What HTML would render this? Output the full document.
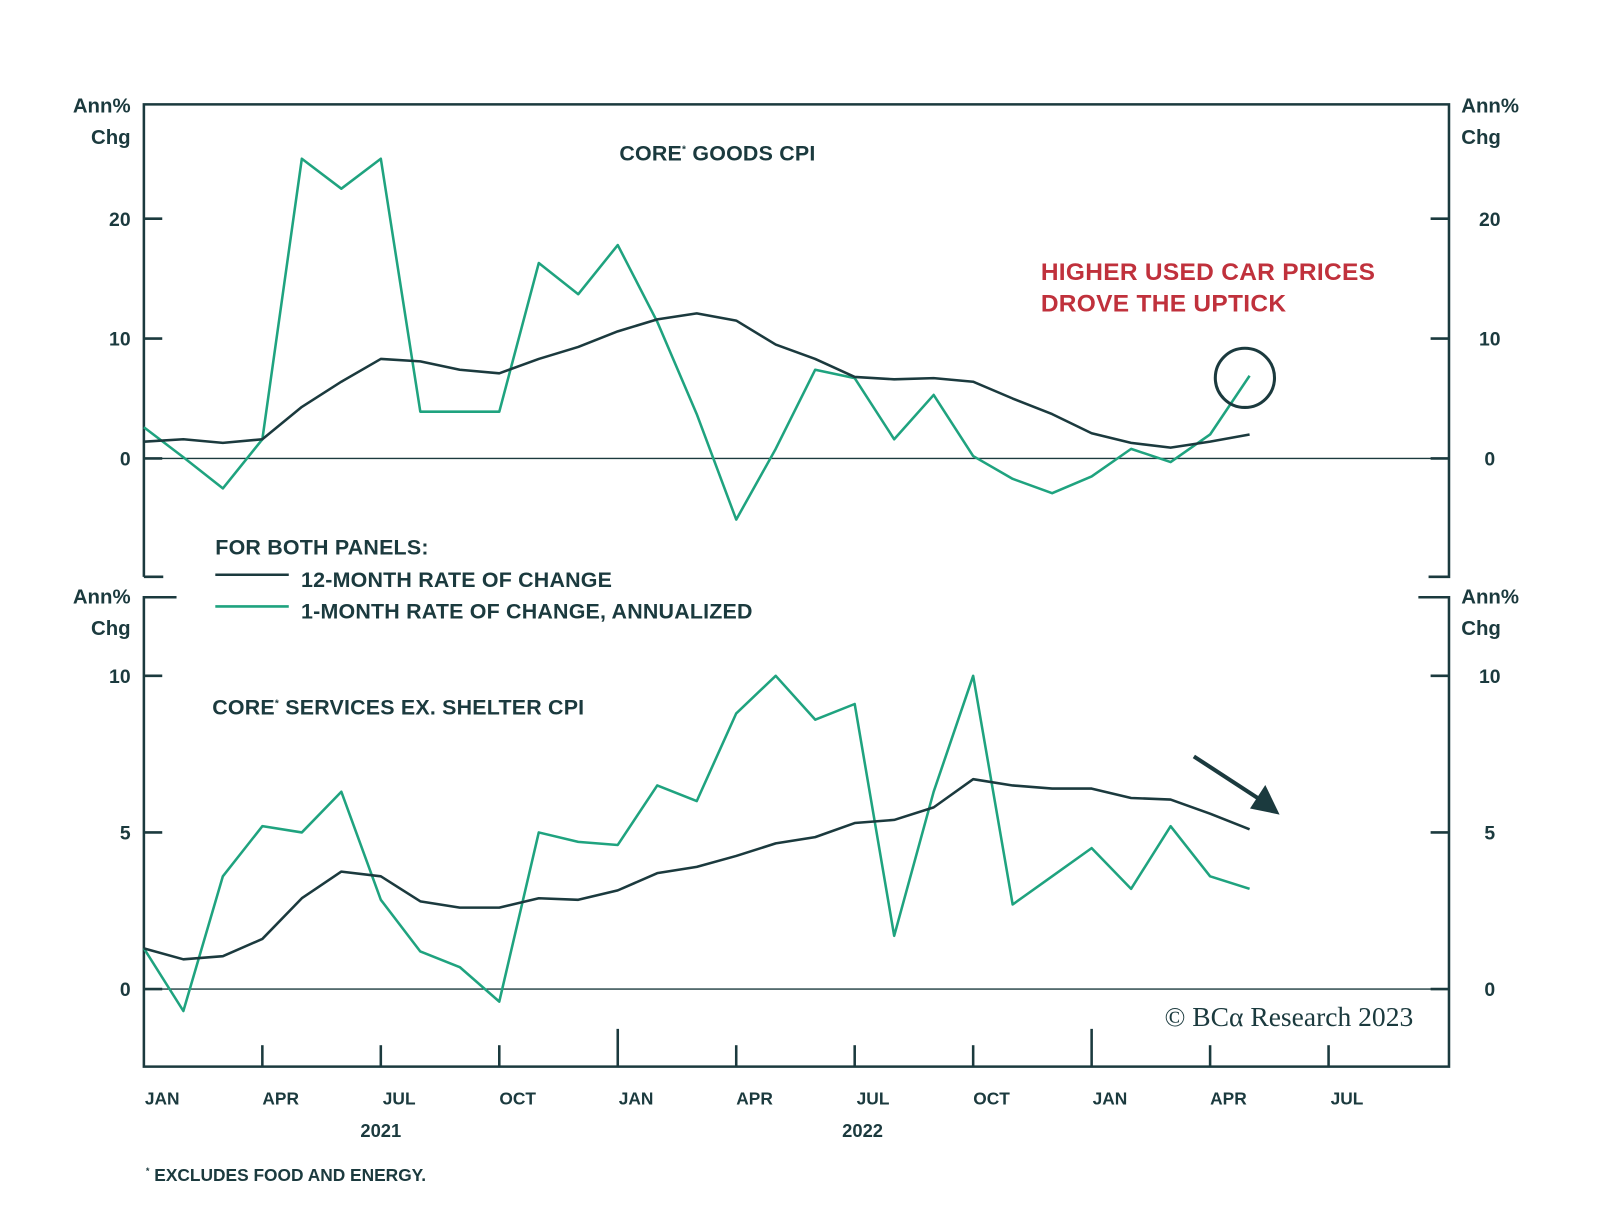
<!DOCTYPE html>
<html><head><meta charset="utf-8"><style>
html,body{margin:0;padding:0;background:#fff;}
svg{display:block;font-family:"Liberation Sans",sans-serif;}
</style></head><body>
<svg id="chart" width="1600" height="1221" viewBox="0 0 1568 1196" xmlns="http://www.w3.org/2000/svg">
<g id="frame" stroke="#1b3a3e" stroke-width="2.5" fill="none">
<path d="M141,565 L141,102 L1420,102 L1420,565 L1400,565"/>
<path d="M141,565 L160,565"/>
<path d="M173,585 L141,585 L141,1045 L1420,1045 L1420,585 L1390,585"/>
</g>
<g id="layer"></g>
<g fill="#1b3a3e" font-weight="bold" font-size="20">
<text x="128" y="110" text-anchor="end">Ann%</text>
<text x="128" y="141" text-anchor="end">Chg</text>
<text x="1432" y="110">Ann%</text>
<text x="1432" y="141">Chg</text>
<text x="128" y="591" text-anchor="end">Ann%</text>
<text x="128" y="622" text-anchor="end">Chg</text>
<text x="1432" y="591">Ann%</text>
<text x="1432" y="622">Chg</text>
</g>
<g fill="#1b3a3e" font-size="21" font-weight="bold" letter-spacing="0.2">
<text x="607" y="157">CORE<tspan font-size="10" dy="-8">*</tspan><tspan dy="8"> GOODS CPI</tspan></text>
<text x="208" y="700">CORE<tspan font-size="10" dy="-8">*</tspan><tspan dy="8"> SERVICES EX. SHELTER CPI</tspan></text>
<text x="211" y="543">FOR BOTH PANELS:</text>
<text x="295" y="575">12-MONTH RATE OF CHANGE</text>
<text x="295" y="606">1-MONTH RATE OF CHANGE, ANNUALIZED</text>
</g>
<line x1="211" y1="563" x2="283" y2="563" stroke="#1b3a3e" stroke-width="2.5"/>
<line x1="211" y1="594" x2="283" y2="594" stroke="#1fa37f" stroke-width="2.5"/>
<g fill="#c0313c" font-size="24" font-weight="bold" letter-spacing="0.3">
<text x="1020" y="274">HIGHER USED CAR PRICES</text>
<text x="1020" y="305">DROVE THE UPTICK</text>
</g>
<circle cx="1220" cy="370" r="29" fill="none" stroke="#1b3a3e" stroke-width="3"/>
<g>
<line x1="1170" y1="741" x2="1236" y2="784" stroke="#1b3a3e" stroke-width="4"/>
<polygon points="1254,798 1225,792 1240,769" fill="#1b3a3e"/>
</g>
<text x="1385" y="1005" text-anchor="end" font-family="Liberation Serif, serif" font-size="27" fill="#1b3a3e">© BCα Research 2023</text>
<text x="143" y="1157" font-size="17" font-weight="bold" fill="#1b3a3e"><tspan font-size="9" dy="-7">*</tspan><tspan dy="7"> EXCLUDES FOOD AND ENERGY.</tspan></text>
</svg>
<script>
const monthLabels=["JAN","APR","JUL","OCT","JAN","APR","JUL","OCT","JAN","APR","JUL"];
const monthIdx=[0,3,6,9,12,15,18,21,24,27,30];
const yearLabels=["2021","2022"];
const yearPos=[6,18.2];
const topTicks=[0,10,20];
const bottomTicks=[0,5,10];
const goods12m=[1.4,1.6,1.3,1.6,4.3,6.4,8.3,8.1,7.4,7.1,8.3,9.3,10.6,11.6,12.1,11.5,9.5,8.3,6.8,6.6,6.7,6.4,5.0,3.7,2.1,1.3,0.9,1.4,2.0];
const goods1m=[2.6,0.1,-2.5,1.6,25,22.5,25,3.9,3.9,3.9,16.3,13.7,17.8,11.4,3.7,-5.1,0.8,7.4,6.7,1.6,5.3,0.2,-1.7,-2.9,-1.5,0.8,-0.3,2.0,6.9];
const serv12m=[1.3,0.95,1.05,1.6,2.9,3.75,3.6,2.8,2.6,2.6,2.9,2.85,3.15,3.7,3.9,4.25,4.65,4.85,5.3,5.4,5.8,6.7,6.5,6.4,6.4,6.1,6.05,5.6,5.1];
const serv1m=[1.3,-0.7,3.6,5.2,5.0,6.3,2.85,1.2,0.7,-0.4,5.0,4.7,4.6,6.5,6.0,8.8,10,8.6,9.1,1.7,6.3,10,2.7,3.6,4.5,3.2,5.2,3.6,3.2];
const NS="http://www.w3.org/2000/svg";
const layer=document.getElementById('layer');
const x=i=>141+i*38.7;
const yTop=v=>449-v*11.75;
const yBot=v=>969-v*30.7;
function mk(tag,attrs){const e=document.createElementNS(NS,tag);for(const k in attrs)e.setAttribute(k,attrs[k]);layer.appendChild(e);return e;}
let z=mk('line',{x1:141,x2:1420,y1:yTop(0),y2:yTop(0),stroke:'#1b3a3e','stroke-width':1.3});


z=mk('line',{x1:141,x2:1420,y1:yBot(0),y2:yBot(0),stroke:'#1b3a3e','stroke-width':1.3});


function yaxis(ticks,fy,pre){ticks.forEach(t=>{const y=fy(t);
 let a=mk('line',{x1:141,x2:159,y1:y,y2:y,stroke:'#1b3a3e','stroke-width':2.5});
 
 
 a=mk('line',{x1:1402,x2:1420,y1:y,y2:y,stroke:'#1b3a3e','stroke-width':2.5});
 
 
 let l=mk('text',{x:128,y:y+7,'text-anchor':'end','font-size':19,'font-weight':'bold',fill:'#1b3a3e'});l.textContent=t;
 
 
 l=mk('text',{x:1460,y:y+7,'text-anchor':'middle','font-size':19,'font-weight':'bold',fill:'#1b3a3e'});l.textContent=t;
 
 });}
yaxis(topTicks,yTop,'top');yaxis(bottomTicks,yBot,'bottom');
monthLabels.forEach((m,k)=>{const i=monthIdx[k];const xx=x(i);const jan=m==="JAN";
 if(k>0){const t=mk('line',{x1:xx,x2:xx,y1:jan?1008:1024,y2:1045,stroke:'#1b3a3e','stroke-width':2.5});
 
 }
 const l=mk('text',{x:xx+18,y:1082,'text-anchor':'middle','font-size':17,'font-weight':'bold',fill:'#1b3a3e'});l.textContent=m;
 
 });
yearLabels.forEach((yl,k)=>{const l=mk('text',{x:x(yearPos[k]),y:1114,'text-anchor':'middle','font-size':18,'font-weight':'bold',fill:'#1b3a3e'});l.textContent=yl;
 
 });
function series(vals,fy,color,name){const p=mk('polyline',{points:vals.map((v,i)=>x(i)+','+fy(v)).join(' '),fill:'none',stroke:color,'stroke-width':2.5,'stroke-linejoin':'round'});
 
 }
series(goods1m,yTop,'#1fa37f','goods-1m-line');
series(goods12m,yTop,'#1b3a3e','goods-12m-line');
series(serv1m,yBot,'#1fa37f','services-1m-line');
series(serv12m,yBot,'#1b3a3e','services-12m-line');
</script>
</body></html>
